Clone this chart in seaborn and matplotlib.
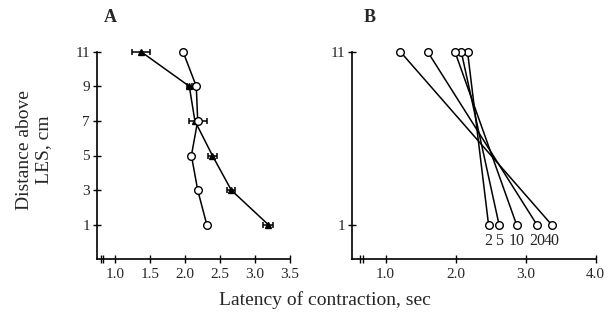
import matplotlib
matplotlib.use("Agg")
import matplotlib.pyplot as plt
import seaborn as sns
import numpy as np
import pandas as pd

# ---- Data ----
distance = [11, 9, 7, 5, 3, 1]
# Panel A
tri_latency = [1.37, 2.06, 2.14, 2.39, 2.66, 3.19]
tri_err = [0.13, 0.04, 0.0, 0.06, 0.06, 0.07]
circ_latency = [1.97, 2.16, 2.18, 2.09, 2.18, 2.31]
circ_err = [0.0, 0.03, 0.13, 0.0, 0.0, 0.0]
# Panel B
volumes = ["2", "5", "10", "20", "40"]
top_latency = [2.17, 2.08, 1.99, 1.60, 1.21]   # at 11 cm
bottom_latency = [2.47, 2.62, 2.87, 3.16, 3.37]  # at 1 cm
b_dist = [11, 1]

a_xticks = [1.0, 1.5, 2.0, 2.5, 3.0, 3.5]
a_yticks = [1, 3, 5, 7, 9, 11]
b_xticks = [1.0, 2.0, 3.0, 4.0]
b_yticks = [1, 11]

sns.set_style("ticks")
plt.rcParams['font.family'] = ['Liberation Serif', 'DejaVu Serif']

fig = plt.figure(figsize=(6.11, 3.2), dpi=100)
axA = fig.add_axes([97/611, 1-259.3/320, (290-97)/611, (259.3-51.7)/320])
axB = fig.add_axes([352/611, 1-259.3/320, (595.7-352)/611, (259.3-51.7)/320])

lw = 1.1
# Panel A
dfA = pd.DataFrame({
    "latency": tri_latency + circ_latency,
    "distance": distance + distance,
    "series": ["tri"] * 6 + ["circ"] * 6,
})
sns.lineplot(data=dfA, x="latency", y="distance", units="series", estimator=None,
             sort=False, color="black", lw=lw, ax=axA, legend=False)
axA.errorbar(tri_latency, distance, xerr=tri_err, fmt="none", ecolor="black",
             elinewidth=lw, capsize=2.5, capthick=lw, clip_on=False)
axA.errorbar(circ_latency, distance, xerr=circ_err, fmt="none", ecolor="black",
             elinewidth=lw, capsize=2.5, capthick=lw, clip_on=False)
axA.plot(tri_latency, distance, ls="none", marker="^", ms=5, color="black",
         clip_on=False, zorder=5)
axA.plot(circ_latency, distance, ls="none", marker="o", ms=5.5, mfc="white",
         mec="black", mew=1.0, clip_on=False, zorder=5)
axA.set_xlim(0.74, 3.5)
axA.set_ylim(-1, 11)
axA.set_xticks(a_xticks)
axA.set_xticklabels([f"{v:.1f}" for v in a_xticks])
axA.set_yticks(a_yticks)
axA.set_xticks([0.797, 0.83], minor=True)

# Panel B
dfB = pd.DataFrame({
    "latency": [v for pair in zip(top_latency, bottom_latency) for v in pair],
    "distance": b_dist * len(volumes),
    "volume": [v for v in volumes for _ in b_dist],
})
sns.lineplot(data=dfB, x="latency", y="distance", hue="volume",
             palette=["black"] * len(volumes), estimator=None, sort=False,
             lw=lw, ax=axB, legend=False)
axB.plot(dfB["latency"], dfB["distance"], ls="none", marker="o", ms=5.5,
         mfc="white", mec="black", mew=1.0, clip_on=False, zorder=5)
for v, x in zip(volumes, bottom_latency):
    axB.text(x, 0.05, v, ha="center", va="center", fontsize=11.5)
axB.set_xlim(0.52, 4.0)
axB.set_ylim(-1, 11)
axB.set_xticks(b_xticks)
axB.set_xticklabels([f"{v:.1f}" for v in b_xticks])
axB.set_yticks(b_yticks)
axB.set_xticks([0.634, 0.677], minor=True)

for ax in (axA, axB):
    sns.despine(ax=ax)
    ax.set_xlabel("")
    ax.set_ylabel("")
    for s in ("left", "bottom"):
        ax.spines[s].set_linewidth(1.2)
        ax.spines[s].set_color("black")
    ax.tick_params(axis="both", which="major", direction="inout", length=6,
                   width=1.0, labelsize=11, color="black", pad=3)
    ax.tick_params(axis="x", which="minor", direction="inout", length=6,
                   width=1.0, color="black")
    ax.tick_params(axis="y", which="major", pad=2)

fig.text(110/611, 1-18/320, "A", fontsize=13, fontweight="bold",
         ha="center", va="center")
fig.text(370/611, 1-18/320, "B", fontsize=13, fontweight="bold",
         ha="center", va="center")
fig.text(325/611, 1-300/320, "Latency of contraction, sec", fontsize=14,
         ha="center", va="center")
fig.text(34/611, 1-150/320, "Distance above\nLES, cm", fontsize=14,
         ha="center", va="center", rotation=90, multialignment="center",
         linespacing=1.1)

fig.savefig("out.png", dpi=100)
